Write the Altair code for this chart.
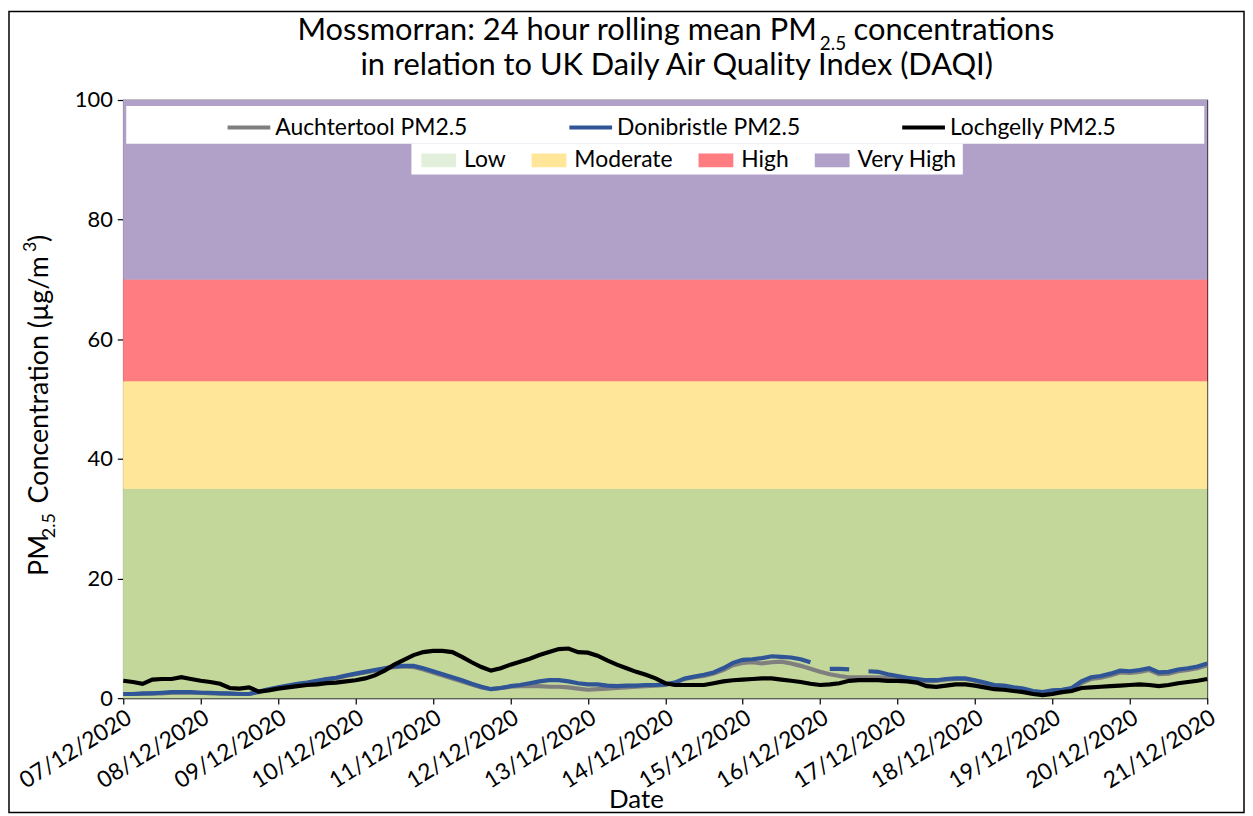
import altair as alt
import pandas as pd

# ---------------- data ----------------
bands = ["Low", "Moderate", "High", "Very High"]
band_lo = [0, 35, 53, 70]
band_hi = [35, 53, 70, 100]
band_colors = ["#c4d79b", "#ffe699", "#ff7c80", "#b1a0c7"]
legend_band_colors = ["#e2efda", "#ffe699", "#ff7c80", "#b1a0c7"]

series = ["Auchtertool PM2.5", "Donibristle PM2.5", "Lochgelly PM2.5"]
series_colors = ["#7f7f7f", "#2f5597", "#000000"]

tick_labels = ["07/12/2020", "08/12/2020", "09/12/2020", "10/12/2020", "11/12/2020",
               "12/12/2020", "13/12/2020", "14/12/2020", "15/12/2020", "16/12/2020",
               "17/12/2020", "18/12/2020", "19/12/2020", "20/12/2020", "21/12/2020"]

# 24h rolling means, 3-hourly readings from 07/12/2020 00:00
auchtertool = [0.7, 0.7, 0.7, 0.8, 0.8, 0.9, 0.9, 0.9, 0.9, 0.8,
               0.8, 0.7, 0.7, 0.7, 1.0, 1.4, 1.7, 2.0, 2.3, 2.5,
               2.8, 3.1, 3.3, 3.7, 4.0, 4.3, 4.6, 4.9, 5.2, 5.3,
               5.2, 4.8, 4.3, 3.8, 3.3, 2.8, 2.3, 1.8, 1.5, 1.7,
               1.9, 2.0, 2.0, 2.0, 1.9, 1.9, 1.8, 1.6, 1.4, 1.5,
               1.6, 1.7, 1.8, 1.9, 2.0, 2.1, 2.2, 2.6, 3.2, 3.5,
               3.7, 4.1, 4.7, 5.5, 5.9, 6.0, 5.8, 6.0, 6.1, 5.8,
               5.4, 4.9, 4.4, 4.0, 3.7, 3.5, 3.5, 3.5, 3.5, 3.4,
               3.3, 3.2, 3.0, 2.8, 2.9, 3.1, 3.2, 3.2, 2.9, 2.5,
               2.1, 2.0, 1.7, 1.5, 1.1, 0.9, 1.2, 1.3, 1.6, 2.5,
               3.2, 3.4, 3.8, 4.3, 4.2, 4.4, 4.7, 4.0, 4.1, 4.5,
               4.7, 5.0, 5.5]
donibristle = [0.7, 0.7, 0.8, 0.8, 0.9, 1.0, 1.0, 1.0, 0.9, 0.9,
               0.8, 0.8, 0.7, 0.7, 1.1, 1.5, 1.8, 2.1, 2.4, 2.6,
               2.9, 3.2, 3.4, 3.8, 4.1, 4.4, 4.7, 5.0, 5.3, 5.4,
               5.4, 5.0, 4.5, 4.0, 3.5, 3.0, 2.4, 1.9, 1.5, 1.7,
               2.0, 2.2, 2.5, 2.8, 3.0, 3.0, 2.8, 2.5, 2.3, 2.3,
               2.1, 2.0, 2.1, 2.1, 2.2, 2.2, 2.3, 2.6, 3.3, 3.6,
               3.9, 4.3, 5.0, 5.9, 6.4, 6.5, 6.7, 7.0, 6.9, 6.8,
               6.5, 6.0, None, 4.9, 4.9, 4.8, None, 4.5, 4.4, 4.0,
               3.7, 3.4, 3.2, 3.0, 3.0, 3.2, 3.3, 3.3, 3.0, 2.6,
               2.2, 2.1, 1.8, 1.6, 1.2, 1.0, 1.3, 1.4, 1.7, 2.8,
               3.5, 3.7, 4.1, 4.6, 4.5, 4.7, 5.0, 4.3, 4.4, 4.8,
               5.0, 5.3, 5.8]
lochgelly = [2.9, 2.7, 2.4, 3.1, 3.2, 3.2, 3.5, 3.2, 2.9, 2.7,
             2.4, 1.7, 1.6, 1.8, 1.1, 1.3, 1.6, 1.8, 2.0, 2.2,
             2.3, 2.5, 2.6, 2.8, 3.0, 3.3, 3.8, 4.6, 5.6, 6.4,
             7.2, 7.7, 7.9, 7.9, 7.7, 6.9, 6.0, 5.2, 4.6, 5.0,
             5.6, 6.1, 6.6, 7.2, 7.7, 8.2, 8.3, 7.7, 7.6, 7.1,
             6.3, 5.6, 5.0, 4.4, 3.9, 3.3, 2.5, 2.2, 2.2, 2.2,
             2.2, 2.5, 2.8, 3.0, 3.1, 3.2, 3.3, 3.3, 3.1, 2.9,
             2.7, 2.4, 2.2, 2.3, 2.5, 2.9, 3.0, 3.0, 3.0, 2.9,
             2.9, 2.8, 2.6, 2.0, 1.9, 2.1, 2.3, 2.3, 2.1, 1.8,
             1.5, 1.4, 1.2, 1.0, 0.7, 0.5, 0.7, 1.0, 1.2, 1.7,
             1.8, 1.9, 2.0, 2.1, 2.2, 2.3, 2.2, 2.0, 2.2, 2.5,
             2.7, 2.9, 3.2]

# ---------------- tables ----------------
start = pd.Timestamp("2020-12-07 00:00")
end = pd.Timestamp("2020-12-21 00:00")
rows = []
for name, vals in zip(series, [auchtertool, donibristle, lochgelly]):
    times = pd.date_range(start, periods=len(vals), freq="3h")
    for t, v in zip(times, vals):
        rows.append({"time": t.strftime("%Y-%m-%dT%H:%M:%S"), "series": name, "value": v})
lines_df = pd.DataFrame(rows)

band_df = pd.DataFrame({
    "band": bands, "lo": band_lo, "hi": band_hi,
    "xs": [start.strftime("%Y-%m-%dT%H:%M:%S")] * 4,
    "xe": [end.strftime("%Y-%m-%dT%H:%M:%S")] * 4,
})

tick_values = []
for lab in tick_labels:
    d, m, y = lab.split("/")
    tick_values.append(alt.DateTime(year=int(y), month=int(m), date=int(d)))

W, H = 1091, 602
FONT = "Lato"

xscale = alt.Scale(domain=[tick_values[0], tick_values[-1]], nice=False)
yscale = alt.Scale(domain=[0, 100], nice=False)

xaxis = alt.Axis(values=tick_values, format="%d/%m/%Y", labelAngle=328,
                 labelAlign="right", labelBaseline="top", labelPadding=2,
                 tickSize=6, grid=False, title="Date", titleX=516, titleY=110,
                 titleBaseline="alphabetic", titleAnchor="start", titleAlign="center",
                 labelFontSize=23, titleFontSize=26, labelOverlap=False)
yaxis = alt.Axis(values=[0, 20, 40, 60, 80, 100], tickSize=6, grid=False, title=None,
                 labelFontSize=22, labelPadding=5)

# legend-only band layer (lighter Low swatch), hidden beneath the real bands
band_legend = alt.Chart(band_df).mark_rect().encode(
    x=alt.X("xs:T", scale=xscale, axis=xaxis),
    x2="xe:T",
    y=alt.Y("lo:Q", scale=yscale, axis=yaxis),
    y2="hi:Q",
    fill=alt.Fill("band:N", scale=alt.Scale(domain=bands, range=legend_band_colors),
                  legend=alt.Legend(orient="none", legendX=300, legendY=43,
                                    direction="horizontal", title=None,
                                    symbolType="M-1,-0.4H1V0.4H-1Z", symbolSize=1225,
                                    symbolStrokeWidth=0, labelFontSize=23, labelFont=FONT,
                                    labelOffset=8, columnPadding=26, padding=0,
                                    labelLimit=400, labelColor="#000000")),
)

band_layer = alt.Chart(band_df).mark_rect().encode(
    x=alt.X("xs:T", scale=xscale, axis=xaxis),
    x2="xe:T",
    y=alt.Y("lo:Q", scale=yscale, axis=yaxis),
    y2="hi:Q",
    fill=alt.Fill("band:N", scale=alt.Scale(domain=bands, range=band_colors), legend=None),
)

box_df = pd.DataFrame({"k": [0]})
box1 = alt.Chart(box_df).mark_rect(fill="white").encode(
    x=alt.value(3), x2=alt.value(1088), y=alt.value(6), y2=alt.value(44))
box2 = alt.Chart(box_df).mark_rect(fill="white").encode(
    x=alt.value(290), x2=alt.value(845), y=alt.value(44), y2=alt.value(75))

line_layer = alt.Chart(lines_df).mark_line(strokeWidth=4.2, invalid="break-paths-show-domains").encode(
    x=alt.X("time:T", scale=xscale, axis=xaxis),
    y=alt.Y("value:Q", scale=yscale, axis=yaxis),
    stroke=alt.Stroke("series:N", scale=alt.Scale(domain=series, range=series_colors),
                      legend=alt.Legend(orient="none", legendX=103, legendY=4,
                                        direction="horizontal", title=None,
                                        symbolType="stroke", symbolSize=1849,
                                        symbolStrokeWidth=4, labelFontSize=23, labelFont=FONT,
                                        labelOffset=3, columnPadding=94, padding=0,
                                        labelLimit=400, labelColor="#000000")),
)


def txt(s, x, y, size, angle=0, align="left", baseline="alphabetic"):
    return alt.Chart(box_df).mark_text(text=s, fontSize=size, font=FONT, angle=angle,
                                       align=align, baseline=baseline, color="#000000").encode(
        x=alt.value(x), y=alt.value(y))


title_layers = [
    txt("Mossmorran: 24 hour rolling mean PM", 698, -60, 31, align="right"),
    txt("2.5", 701, -50, 19),
    txt("concentrations", 735, -60, 31),
    txt("in relation to UK Daily Air Quality Index (DAQI)", 557, -25, 31, align="center"),
]

ytitle_layers = [
    txt("PM", -76, 479, 27, angle=270),
    txt("2.5", -69, 441, 18, angle=270),
    txt("Concentration (µg/m", -76, 406, 27, angle=270),
    txt("3", -88, 153, 18, angle=270),
    txt(")", -76, 143, 27, angle=270),
]

frame = alt.Chart(box_df).mark_rect(fill=None, stroke="#000000", strokeWidth=1.5).encode(
    x=alt.value(-115), x2=alt.value(W + 37), y=alt.value(-89), y2=alt.value(H + 115))

chart = alt.layer(
    band_legend, band_layer, line_layer, box1, box2, *title_layers, *ytitle_layers, frame
).resolve_scale(fill="independent").properties(
    width=W, height=H,
    autosize=alt.AutoSizeParams(type="none"),
    padding={"left": 116, "top": 90, "right": 38, "bottom": 116},
).configure_view(stroke="#000000", strokeWidth=1.2).configure_axis(
    domainColor="#000000", domainWidth=1.2, tickColor="#000000", tickWidth=1.2,
    labelColor="#000000", titleColor="#000000", labelFont=FONT, titleFont=FONT,
    titleFontWeight="normal",
)

chart.save("out.html", embed_options={"renderer": "svg", "actions": False})
